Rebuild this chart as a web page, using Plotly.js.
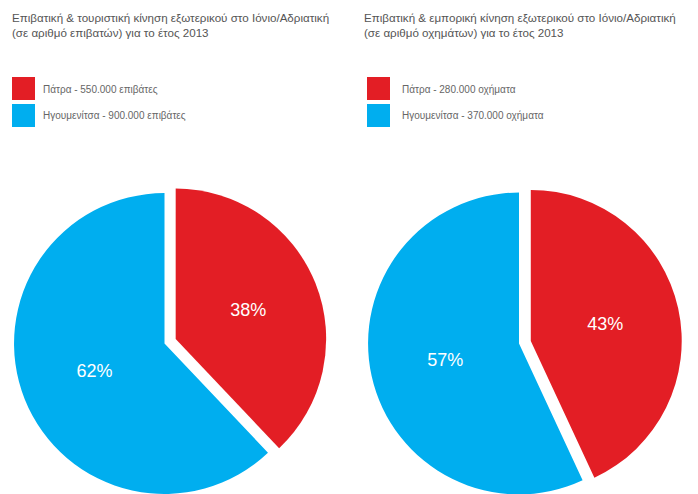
<!DOCTYPE html>
<html>
<head>
<meta charset="utf-8">
<script src="https://cdn.plot.ly/plotly-3.0.1.min.js"></script>
<style>
html,body{margin:0;padding:0;overflow:hidden;background:#fff;}
#chart{width:698px;height:520px;}
</style>
</head>
<body>
<div id="chart"></div>
<script>
// ---- data ----
var cities = ["Πάτρα", "Ηγουμενίτσα"];
var passengers = [550000, 900000];
var vehicles = [280000, 370000];
var sliceColors = ["#E31E25", "#00AEEF"];
var titleLeft = "Επιβατική & τουριστική κίνηση εξωτερικού στο Ιόνιο/Αδριατική<br>(σε αριθμό επιβατών) για το έτος 2013";
var titleRight = "Επιβατική & εμπορική κίνηση εξωτερικού στο Ιόνιο/Αδριατική<br>(σε αριθμό οχημάτων) για το έτος 2013";
var legendLeft = ["Πάτρα - 550.000 επιβάτες", "Ηγουμενίτσα - 900.000 επιβάτες"];
var legendRight = ["Πάτρα - 280.000 οχήματα", "Ηγουμενίτσα - 370.000 οχήματα"];

// ---- layout helpers (pixels -> paper) ----
var W = 698, H = 520;
function px(x){ return x / W; }
function py(y){ return 1 - y / H; }

var font = "Liberation Sans, Arial, sans-serif";

function pieTrace(vals, x0, x1, y0, y1){
  return {
    type: "pie",
    labels: cities,
    values: vals,
    sort: false,
    direction: "clockwise",
    rotation: 0,
    pull: [0.08, 0],
    marker: {colors: sliceColors, line: {width: 0}},
    textinfo: "percent",
    texttemplate: "%{percent:.0%}",
    textposition: "inside",
    insidetextorientation: "horizontal",
    textfont: {family: font, size: 18, color: "#ffffff"},
    hoverinfo: "none",
    showlegend: false,
    domain: {x: [px(x0), px(x1)], y: [py(y1), py(y0)]}
  };
}

var data = [
  pieTrace(passengers, 2, 327, 181, 506),
  pieTrace(vehicles, 356, 682, 180, 507)
];

var shapes = [];
var annotations = [];

function addBlock(title, legendTexts, xLeft, sqLeft, textLeft){
  annotations.push({
    xref: "paper", yref: "paper",
    x: px(xLeft), y: py(9),
    xanchor: "left", yanchor: "top", align: "left",
    text: title, showarrow: false,
    font: {family: font, size: 11.6, color: "#555555"}
  });
  var sqTop = [77, 104];
  for (var i = 0; i < legendTexts.length; i++) {
    shapes.push({
      type: "rect", xref: "paper", yref: "paper",
      x0: px(sqLeft), x1: px(sqLeft + 23),
      y0: py(sqTop[i] + 23), y1: py(sqTop[i]),
      fillcolor: sliceColors[i], line: {width: 0}
    });
    annotations.push({
      xref: "paper", yref: "paper",
      x: px(textLeft), y: py(sqTop[i] + 12),
      xanchor: "left", yanchor: "middle", align: "left",
      text: legendTexts[i], showarrow: false,
      font: {family: font, size: 10, color: "#666666"}
    });
  }
}
addBlock(titleLeft, legendLeft, 10, 12, 41);
addBlock(titleRight, legendRight, 362, 367, 400);

var layout = {
  width: W, height: H,
  margin: {l: 0, r: 0, t: 0, b: 0},
  paper_bgcolor: "#ffffff",
  showlegend: false,
  shapes: shapes,
  annotations: annotations
};

Plotly.newPlot("chart", data, layout, {displayModeBar: false, staticPlot: true});
</script>
</body>
</html>
